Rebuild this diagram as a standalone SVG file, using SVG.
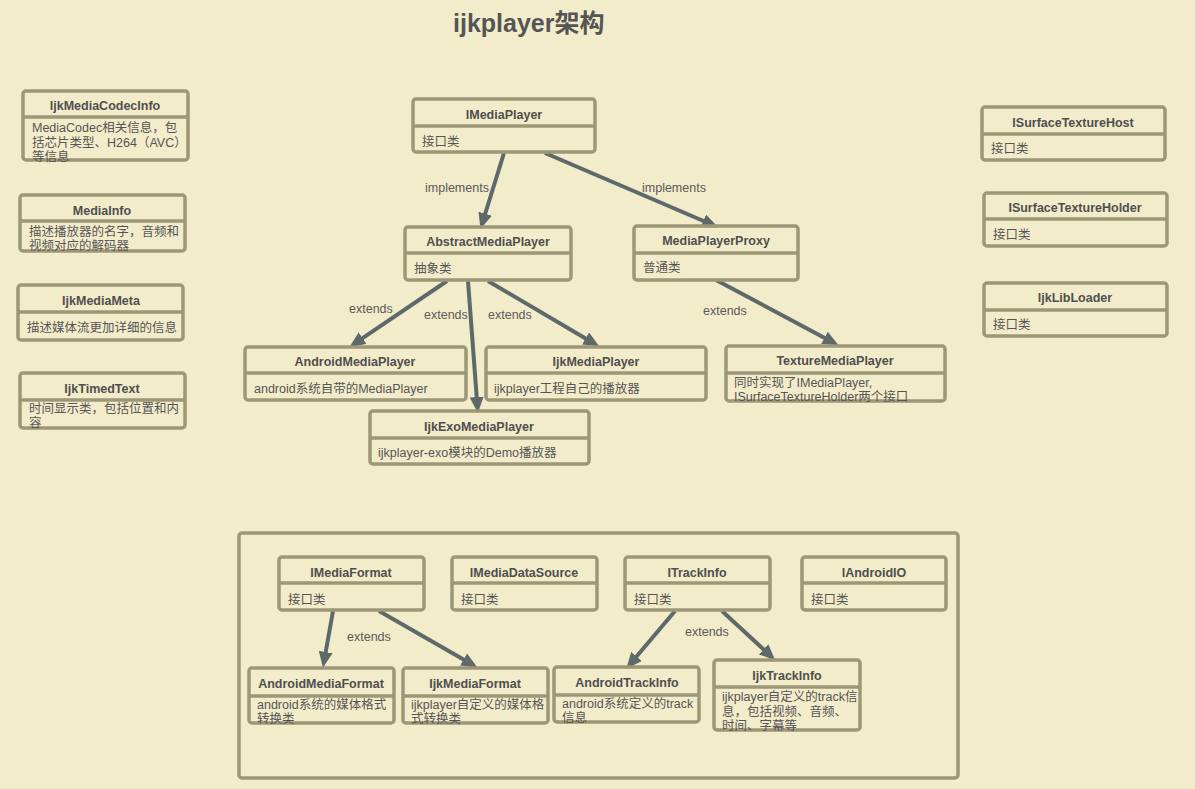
<svg xmlns="http://www.w3.org/2000/svg" width="1195" height="789" viewBox="0 0 1195 789">
<style>
.bg{fill:#F3ECCA}
.box{fill:none;stroke:#9D9677;stroke-width:3.5}
.div{stroke:#9D9677;stroke-width:3.5}
.t{font-family:"Liberation Sans","Noto Sans CJK SC",sans-serif;font-size:12.5px;font-weight:bold;fill:#4F4F4F;text-anchor:middle}
.b{font-family:"Liberation Sans","Noto Sans CJK SC",sans-serif;font-size:12.5px;fill:#555555}
.lbl{font-family:"Liberation Sans","Noto Sans CJK SC",sans-serif;font-size:12.5px;fill:#5A5A5A}
.e{stroke:#5E6A6A;stroke-width:4;fill:none}
.title{font-family:"Liberation Sans","Noto Sans CJK SC",sans-serif;font-size:25px;font-weight:bold;fill:#555555}
</style>
<defs>
<marker id="ah" markerUnits="userSpaceOnUse" markerWidth="16" markerHeight="14" refX="4" refY="7" orient="auto">
<path d="M0,0 L16,7 L0,14 z" fill="#5E6A6A"/>
</marker>
</defs>
<rect class="bg" x="0" y="0" width="1195" height="789"/>
<text class="title" x="453" y="32">ijkplayer架构</text>

<rect class="box" x="239" y="533" width="719" height="245" rx="3"/>

<g id="connectors">
<line class="e" x1="504" y1="153" x2="484" y2="217.5" marker-end="url(#ah)"/>
<line class="e" x1="545" y1="153" x2="707" y2="222.5" marker-end="url(#ah)"/>
<line class="e" x1="447" y1="281" x2="359.3" y2="340.4" marker-end="url(#ah)"/>
<line class="e" x1="468" y1="281" x2="477" y2="401" marker-end="url(#ah)"/>
<line class="e" x1="488" y1="281" x2="589" y2="340.5" marker-end="url(#ah)"/>
<line class="e" x1="716" y1="280" x2="828" y2="339.7" marker-end="url(#ah)"/>
<line class="e" x1="333" y1="611" x2="325" y2="656" marker-end="url(#ah)"/>
<line class="e" x1="379" y1="611" x2="467" y2="661.5" marker-end="url(#ah)"/>
<line class="e" x1="675" y1="611" x2="634" y2="659.5" marker-end="url(#ah)"/>
<line class="e" x1="722" y1="611" x2="766.5" y2="652" marker-end="url(#ah)"/>
<text class="lbl" x="425" y="192">implements</text>
<text class="lbl" x="642" y="192">implements</text>
<text class="lbl" x="349" y="313">extends</text>
<text class="lbl" x="424" y="319">extends</text>
<text class="lbl" x="488" y="319">extends</text>
<text class="lbl" x="703" y="315">extends</text>
<text class="lbl" x="347" y="641">extends</text>
<text class="lbl" x="685" y="636">extends</text>
</g>

<g id="IjkMediaCodecInfo">
<rect class="box" x="23" y="91" width="165" height="69" rx="3"/>
<line class="div" x1="23" y1="117" x2="188" y2="117"/>
<text class="t" x="105" y="110">IjkMediaCodecInfo</text>
<text class="b" x="32" y="132">MediaCodec相关信息，包</text>
<text class="b" x="32" y="147">括芯片类型、H264（AVC）</text>
<text class="b" x="32" y="161">等信息</text>
</g>
<g id="MediaInfo">
<rect class="box" x="20" y="195" width="165" height="56" rx="3"/>
<line class="div" x1="20" y1="221" x2="185" y2="221"/>
<text class="t" x="102" y="215">MediaInfo</text>
<text class="b" x="29" y="236">描述播放器的名字，音频和</text>
<text class="b" x="29" y="250">视频对应的解码器</text>
</g>
<g id="IjkMediaMeta">
<rect class="box" x="18" y="285" width="165" height="55" rx="3"/>
<line class="div" x1="18" y1="312" x2="183" y2="312"/>
<text class="t" x="101" y="305">IjkMediaMeta</text>
<text class="b" x="27" y="332">描述媒体流更加详细的信息</text>
</g>
<g id="IjkTimedText">
<rect class="box" x="20" y="373" width="165" height="55" rx="3"/>
<line class="div" x1="20" y1="400" x2="185" y2="400"/>
<text class="t" x="102" y="393">IjkTimedText</text>
<text class="b" x="29" y="413">时间显示类，包括位置和内</text>
<text class="b" x="29" y="427">容</text>
</g>

<g id="IMediaPlayer">
<rect class="box" x="413" y="99" width="182" height="53" rx="3"/>
<line class="div" x1="413" y1="126" x2="595" y2="126"/>
<text class="t" x="504" y="119">IMediaPlayer</text>
<text class="b" x="422" y="146">接口类</text>
</g>
<g id="AbstractMediaPlayer">
<rect class="box" x="405" y="227" width="166" height="53" rx="3"/>
<line class="div" x1="405" y1="253" x2="571" y2="253"/>
<text class="t" x="488" y="246">AbstractMediaPlayer</text>
<text class="b" x="414" y="273">抽象类</text>
</g>
<g id="MediaPlayerProxy">
<rect class="box" x="634" y="226" width="164" height="54" rx="3"/>
<line class="div" x1="634" y1="253" x2="798" y2="253"/>
<text class="t" x="716" y="245">MediaPlayerProxy</text>
<text class="b" x="643" y="272">普通类</text>
</g>
<g id="AndroidMediaPlayer">
<rect class="box" x="245" y="347" width="221" height="53" rx="3"/>
<line class="div" x1="245" y1="373" x2="466" y2="373"/>
<text class="t" x="355" y="366">AndroidMediaPlayer</text>
<text class="b" x="254" y="393">android系统自带的MediaPlayer</text>
</g>
<g id="IjkMediaPlayer">
<rect class="box" x="486" y="347" width="220" height="53" rx="3"/>
<line class="div" x1="486" y1="373" x2="706" y2="373"/>
<text class="t" x="596" y="366">IjkMediaPlayer</text>
<text class="b" x="494" y="393">ijkplayer工程自己的播放器</text>
</g>
<g id="TextureMediaPlayer">
<rect class="box" x="726" y="346" width="219" height="55" rx="3"/>
<line class="div" x1="726" y1="373" x2="945" y2="373"/>
<text class="t" x="835" y="365">TextureMediaPlayer</text>
<text class="b" x="734" y="387">同时实现了IMediaPlayer,</text>
<text class="b" x="734" y="401">ISurfaceTextureHolder两个接口</text>
</g>
<g id="IjkExoMediaPlayer">
<rect class="box" x="370" y="411" width="219" height="53" rx="3"/>
<line class="div" x1="370" y1="438" x2="589" y2="438"/>
<text class="t" x="479" y="431">IjkExoMediaPlayer</text>
<text class="b" x="378" y="457">ijkplayer-exo模块的Demo播放器</text>
</g>

<g id="ISurfaceTextureHost">
<rect class="box" x="982" y="107" width="183" height="53" rx="3"/>
<line class="div" x1="982" y1="134" x2="1165" y2="134"/>
<text class="t" x="1073" y="127">ISurfaceTextureHost</text>
<text class="b" x="991" y="153">接口类</text>
</g>
<g id="ISurfaceTextureHolder">
<rect class="box" x="984" y="193" width="183" height="53" rx="3"/>
<line class="div" x1="984" y1="219" x2="1167" y2="219"/>
<text class="t" x="1075" y="212">ISurfaceTextureHolder</text>
<text class="b" x="993" y="239">接口类</text>
</g>
<g id="IjkLibLoader">
<rect class="box" x="984" y="283" width="183" height="53" rx="3"/>
<line class="div" x1="984" y1="310" x2="1167" y2="310"/>
<text class="t" x="1075" y="302">IjkLibLoader</text>
<text class="b" x="993" y="329">接口类</text>
</g>

<g id="IMediaFormat">
<rect class="box" x="279" y="557" width="145" height="53" rx="3"/>
<line class="div" x1="279" y1="583" x2="424" y2="583"/>
<text class="t" x="351" y="577">IMediaFormat</text>
<text class="b" x="288" y="604">接口类</text>
</g>
<g id="IMediaDataSource">
<rect class="box" x="452" y="557" width="145" height="53" rx="3"/>
<line class="div" x1="452" y1="583" x2="597" y2="583"/>
<text class="t" x="524" y="577">IMediaDataSource</text>
<text class="b" x="461" y="604">接口类</text>
</g>
<g id="ITrackInfo">
<rect class="box" x="625" y="557" width="145" height="53" rx="3"/>
<line class="div" x1="625" y1="583" x2="770" y2="583"/>
<text class="t" x="697" y="577">ITrackInfo</text>
<text class="b" x="634" y="604">接口类</text>
</g>
<g id="IAndroidIO">
<rect class="box" x="802" y="557" width="144" height="53" rx="3"/>
<line class="div" x1="802" y1="583" x2="946" y2="583"/>
<text class="t" x="874" y="577">IAndroidIO</text>
<text class="b" x="811" y="604">接口类</text>
</g>
<g id="AndroidMediaFormat">
<rect class="box" x="249" y="668" width="145" height="55" rx="3"/>
<line class="div" x1="249" y1="696" x2="394" y2="696"/>
<text class="t" x="321" y="688">AndroidMediaFormat</text>
<text class="b" x="257" y="709">android系统的媒体格式</text>
<text class="b" x="257" y="723">转换类</text>
</g>
<g id="IjkMediaFormat">
<rect class="box" x="403" y="668" width="145" height="55" rx="3"/>
<line class="div" x1="403" y1="696" x2="548" y2="696"/>
<text class="t" x="475" y="688">IjkMediaFormat</text>
<text class="b" x="411" y="709">ijkplayer自定义的媒体格</text>
<text class="b" x="411" y="723">式转换类</text>
</g>
<g id="AndroidTrackInfo">
<rect class="box" x="554" y="667" width="145" height="55" rx="3"/>
<line class="div" x1="554" y1="695" x2="699" y2="695"/>
<text class="t" x="627" y="687">AndroidTrackInfo</text>
<text class="b" x="562" y="708">android系统定义的track</text>
<text class="b" x="562" y="722">信息</text>
</g>
<g id="IjkTrackInfo">
<rect class="box" x="714" y="660" width="146" height="70" rx="3"/>
<line class="div" x1="714" y1="687" x2="860" y2="687"/>
<text class="t" x="787" y="680">IjkTrackInfo</text>
<text class="b" x="722" y="701">ijkplayer自定义的track信</text>
<text class="b" x="722" y="716">息，包括视频、音频、</text>
<text class="b" x="722" y="730">时间、字幕等</text>
</g>
</svg>
